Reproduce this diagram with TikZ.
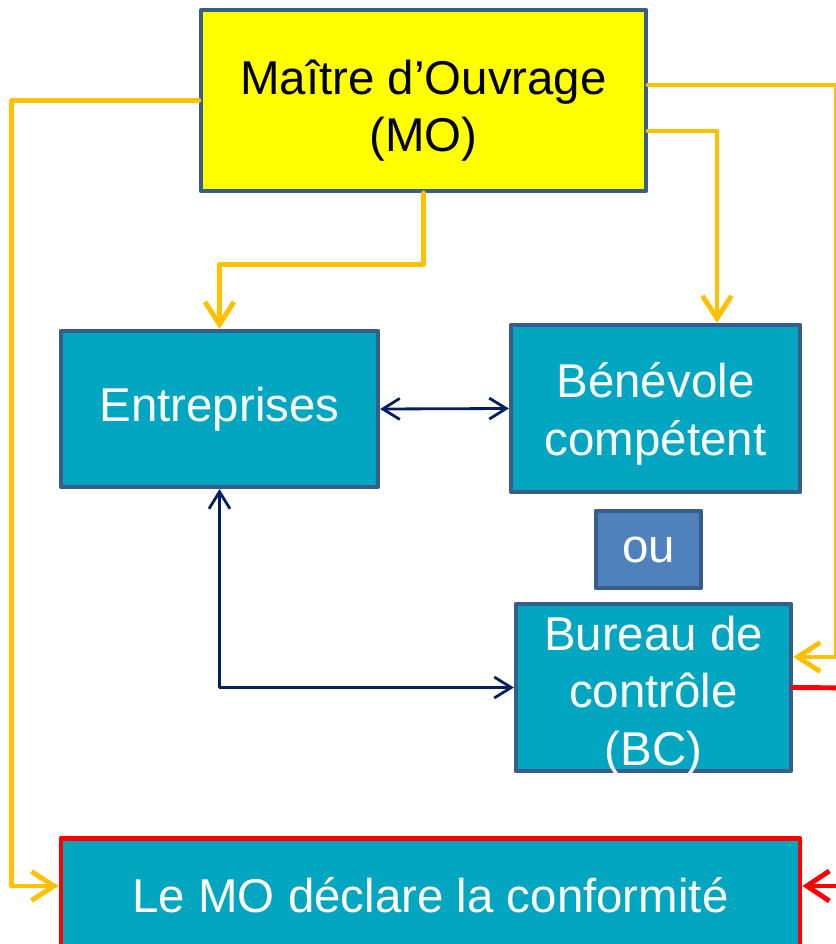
\documentclass[tikz,border=0pt]{standalone}
\usepackage{fontspec}
\setmainfont{Liberation Sans}
\usetikzlibrary{arrows.meta}
\definecolor{moyellow}{RGB}{255,255,0}
\definecolor{boxteal}{RGB}{3,166,193}
\definecolor{boxedge}{RGB}{56,93,138}
\definecolor{oublue}{RGB}{79,129,189}
\definecolor{linkorange}{RGB}{255,192,0}
\definecolor{linknavy}{RGB}{0,32,96}
\definecolor{linkred}{RGB}{255,0,0}
\begin{document}
\begin{tikzpicture}[font=\fontsize{27}{32.5}\selectfont, line join=round, line cap=round,
	boxnode/.style={draw=boxedge, line width=2.4pt, fill=boxteal, text=white, align=center, inner sep=0pt},
	orangelink/.style={draw=linkorange, line width=2.8pt, -{Straight Barb[length=0.45cm,width=0.58cm]}},
	navylink/.style={draw=linknavy, line width=1.6pt, {Straight Barb[length=0.34cm,width=0.42cm]}-{Straight Barb[length=0.34cm,width=0.42cm]}},
	redlink/.style={draw=linkred, line width=2.8pt}]
	\useasboundingbox (0,0) rectangle (16.72,-18.88);
	\clip (0,0) rectangle (16.72,-18.88);
	\node[boxnode, fill=moyellow, text=black, minimum width=8.9cm, minimum height=3.62cm, text height=2.2cm, text depth=0.14cm] (MO) at (8.47,-2.01) {Maître d’Ouvrage\\(MO)};
	\node[boxnode, minimum width=6.34cm, minimum height=3.12cm] (Entreprises) at (4.39,-8.18) {Entreprises};
	\node[boxnode, minimum width=5.78cm, minimum height=3.34cm, text height=2cm, text depth=0.14cm] (Benevole) at (13.11,-8.17) {Bénévole\\compétent};
	\node[boxnode, fill=oublue, minimum width=2.1cm, minimum height=1.54cm] (ou) at (12.97,-10.99) {ou};
	\node[boxnode, minimum width=5.5cm, minimum height=3.34cm, text height=3.2cm, text depth=0.1cm] (BC) at (13.07,-13.75) {Bureau de\\contrôle\\(BC)};
	\node[boxnode, draw=linkred, line width=2.8pt, minimum width=14.78cm, text height=1.38cm, text depth=1cm, inner sep=0.1cm, anchor=north] (LeMO) at (8.61,-16.72) {Le MO déclare la conformité};
	% liens du MO
	\draw[orangelink] (MO.west) -- ++(-3.74,0) |- ([yshift=-1cm]LeMO.north west);
	\draw[orangelink] (MO.south) -- ++(0,-1.42) -| (Entreprises.north);
	\draw[orangelink] ([yshift=-0.61cm]MO.east) -| ([xshift=1.23cm]Benevole.north);
	\draw[orangelink] ([yshift=0.31cm]MO.east) -- ++(3.76,0) |- ([yshift=0.61cm]BC.east);
	% liens entre acteurs
	\draw[navylink] (Entreprises.east) -- (Benevole.west);
	\draw[navylink] (Entreprises.south) |- (BC.west);
	% sorties rouges
	\coordinate (redout) at (17.2,-13.76);
	\coordinate (redin) at (17.2,-17.72);
	\draw[redlink] (BC.east) -- (redout);
	\draw[redlink, -{Straight Barb[length=0.45cm,width=0.6cm]}] (redin) -- ([yshift=-1cm]LeMO.north east);
\end{tikzpicture}
\end{document}
